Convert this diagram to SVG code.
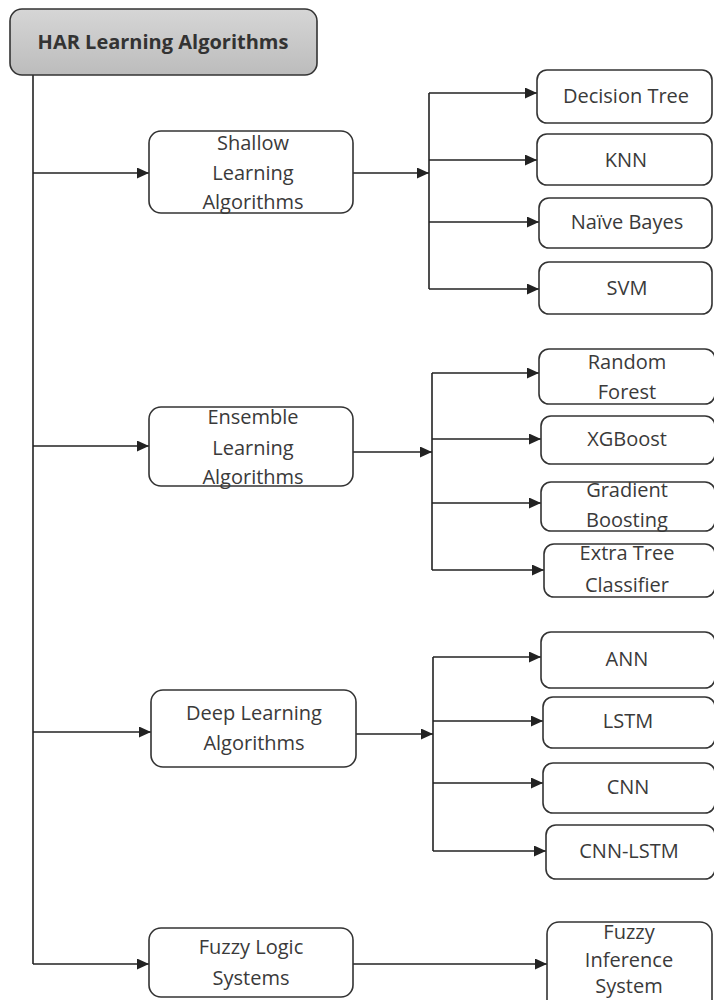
<svg xmlns="http://www.w3.org/2000/svg" width="714" height="1000" viewBox="0 0 714 1000">
<defs>
<linearGradient id="rootFill" x1="0" y1="0" x2="0" y2="1">
<stop offset="0" stop-color="#d6d6d6"/>
<stop offset="1" stop-color="#bcbcbc"/>
</linearGradient>
<marker id="arr" markerUnits="userSpaceOnUse" markerWidth="13" markerHeight="11" refX="12" refY="5.5" orient="auto">
<path d="M0,0 L12,5.5 L0,11 Z" fill="#222"/>
</marker>
<style>
.box{fill:#fff;stroke:#333;stroke-width:1.6}
.root{fill:url(#rootFill);stroke:#333;stroke-width:1.6}
.t{font-family:"Open Sans","Liberation Sans",sans-serif;font-size:20px;fill:#3a3a3a;text-anchor:middle}
.tb{font-family:"Open Sans","Liberation Sans",sans-serif;font-size:20px;font-weight:bold;fill:#333;text-anchor:middle}
.c{fill:none;stroke:#222;stroke-width:1.6}
.a{fill:none;stroke:#222;stroke-width:1.6;marker-end:url(#arr)}
</style>
</defs>
<rect width="714" height="1000" fill="#fff"/>
<g id="connectors">
<path class="c" d="M33,75 V964"/>
<path class="a" d="M33,964 H149"/>
<path class="a" d="M33,173 H149"/>
<path class="a" d="M33,446 H149"/>
<path class="a" d="M33,732 H151"/>
<path class="a" d="M353,173 H429"/>
<path class="c" d="M429,93 V289"/>
<path class="a" d="M429,93 H537"/>
<path class="a" d="M429,160 H537"/>
<path class="a" d="M429,222 H539"/>
<path class="a" d="M429,289 H539"/>
<path class="a" d="M353,452 H432"/>
<path class="c" d="M432,373 V570"/>
<path class="a" d="M432,373 H539"/>
<path class="a" d="M432,439 H541"/>
<path class="a" d="M432,503 H541"/>
<path class="a" d="M432,570 H544"/>
<path class="a" d="M356,734 H433"/>
<path class="c" d="M433,657 V851"/>
<path class="a" d="M433,657 H541"/>
<path class="a" d="M433,721 H543"/>
<path class="a" d="M433,783 H543"/>
<path class="a" d="M433,851 H546"/>
<path class="a" d="M353,964 H547"/>
</g>
<g id="root">
<rect class="root" x="10" y="9" width="307" height="66" rx="12"/>
<text class="tb" x="163" y="49">HAR Learning Algorithms</text>
</g>
<g id="shallow">
<rect class="box" x="149" y="131" width="204" height="82" rx="12"/>
<text class="t" x="253" y="150">Shallow</text>
<text class="t" x="253" y="180">Learning</text>
<text class="t" x="253" y="209">Algorithms</text>
</g>
<g id="ensemble">
<rect class="box" x="149" y="407" width="204" height="79" rx="12"/>
<text class="t" x="253" y="424">Ensemble</text>
<text class="t" x="253" y="455">Learning</text>
<text class="t" x="253" y="484">Algorithms</text>
</g>
<g id="deep">
<rect class="box" x="151" y="690" width="205" height="77" rx="12"/>
<text class="t" x="254" y="720">Deep Learning</text>
<text class="t" x="254" y="750">Algorithms</text>
</g>
<g id="fuzzy">
<rect class="box" x="149" y="928" width="204" height="69" rx="12"/>
<text class="t" x="251" y="954">Fuzzy Logic</text>
<text class="t" x="251" y="985">Systems</text>
</g>
<g id="dt">
<rect class="box" x="537" y="70" width="175" height="53" rx="10"/>
<text class="t" x="626" y="103">Decision Tree</text>
</g>
<g id="knn">
<rect class="box" x="537" y="134" width="175" height="51" rx="10"/>
<text class="t" x="626" y="167">KNN</text>
</g>
<g id="nb">
<rect class="box" x="539" y="198" width="173" height="50" rx="10"/>
<text class="t" x="627" y="229">Naïve Bayes</text>
</g>
<g id="svm">
<rect class="box" x="539" y="262" width="173" height="52" rx="10"/>
<text class="t" x="627" y="295">SVM</text>
</g>
<g id="rf">
<rect class="box" x="539" y="349" width="176" height="55" rx="10"/>
<text class="t" x="627" y="369">Random</text>
<text class="t" x="627" y="399">Forest</text>
</g>
<g id="xgb">
<rect class="box" x="541" y="416" width="174" height="48" rx="10"/>
<text class="t" x="627" y="446">XGBoost</text>
</g>
<g id="gb">
<rect class="box" x="541" y="482" width="174" height="49" rx="10"/>
<text class="t" x="627" y="497">Gradient</text>
<text class="t" x="627" y="527">Boosting</text>
</g>
<g id="etc">
<rect class="box" x="544" y="544" width="171" height="53" rx="10"/>
<text class="t" x="627" y="560">Extra Tree</text>
<text class="t" x="627" y="592">Classifier</text>
</g>
<g id="ann">
<rect class="box" x="541" y="632" width="174" height="56" rx="10"/>
<text class="t" x="627" y="666">ANN</text>
</g>
<g id="lstm">
<rect class="box" x="543" y="697" width="172" height="51" rx="10"/>
<text class="t" x="628" y="728">LSTM</text>
</g>
<g id="cnn">
<rect class="box" x="543" y="763" width="172" height="50" rx="10"/>
<text class="t" x="628" y="794">CNN</text>
</g>
<g id="cnnlstm">
<rect class="box" x="546" y="825" width="169" height="54" rx="10"/>
<text class="t" x="629" y="858">CNN-LSTM</text>
</g>
<g id="fis">
<rect class="box" x="547" y="922" width="165" height="90" rx="12"/>
<text class="t" x="629" y="939">Fuzzy</text>
<text class="t" x="629" y="967">Inference</text>
<text class="t" x="629" y="993">System</text>
</g>
</svg>
